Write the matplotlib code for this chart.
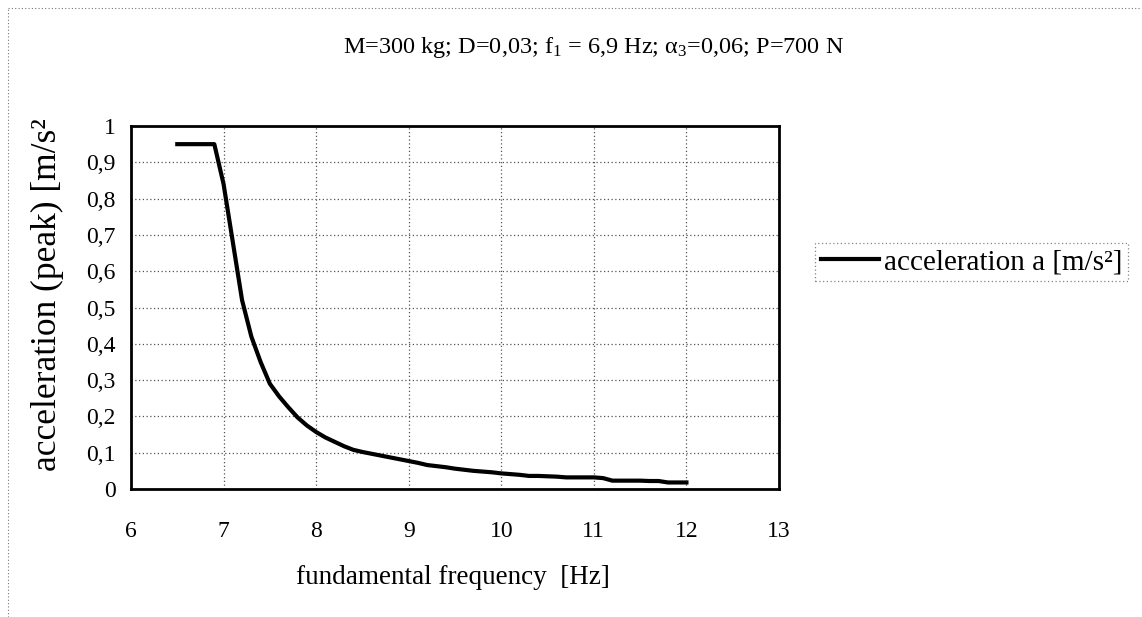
import matplotlib
matplotlib.use("Agg")
import matplotlib.pyplot as plt
from matplotlib.ticker import FuncFormatter, MultipleLocator
from matplotlib.lines import Line2D
from matplotlib.patches import Rectangle

plt.rcParams['font.family'] = ['Liberation Serif', 'DejaVu Serif']
plt.rcParams['mathtext.fontset'] = 'custom'
plt.rcParams['mathtext.rm'] = 'Liberation Serif'
plt.rcParams['mathtext.it'] = 'Liberation Serif:italic'

# fundamental frequency [Hz]
freq = [6.5, 6.6, 6.7, 6.8, 6.9,
        7.0, 7.1, 7.2, 7.3, 7.4, 7.5, 7.6, 7.7, 7.8, 7.9, 8.0,
        8.1, 8.2, 8.3, 8.4, 8.5, 8.6, 8.7, 8.8, 8.9, 9.0,
        9.1, 9.2, 9.3, 9.4, 9.5, 9.6, 9.7, 9.8, 9.9, 10.0,
        10.1, 10.2, 10.3, 10.4, 10.5, 10.6, 10.7, 10.8, 10.9, 11.0,
        11.1, 11.2, 11.3, 11.4, 11.5, 11.6, 11.7, 11.8, 11.9, 12.0]
# peak acceleration [m/s²]
accel = [0.95, 0.95, 0.95, 0.95, 0.95,
         0.84, 0.68, 0.52, 0.42, 0.35, 0.29, 0.255, 0.225, 0.197, 0.175, 0.157,
         0.142, 0.130, 0.118, 0.108, 0.102, 0.097, 0.092, 0.087, 0.082, 0.077,
         0.072, 0.066, 0.063, 0.060, 0.056, 0.053, 0.050, 0.048, 0.046, 0.043,
         0.041, 0.039, 0.036, 0.036, 0.035, 0.034, 0.032, 0.032, 0.032, 0.032,
         0.030, 0.023, 0.023, 0.023, 0.023, 0.022, 0.022, 0.018, 0.018, 0.018]

x_ticks = [6, 7, 8, 9, 10, 11, 12, 13]
title_text = r"M=300 kg; D=0,03; $\mathregular{f_1}$ = 6,9 Hz; $\mathregular{\alpha_3}$=0,06; P=700 N"
series_label = "acceleration a [m/s²]"

W, H = 1142, 617
fig = plt.figure(figsize=(W / 100, H / 100), dpi=100)
ax = fig.add_axes([131 / W, 1 - 489 / H, (779 - 131) / W, (489 - 126) / H])

ax.plot(freq, accel, color='black', linewidth=3.0, solid_joinstyle='round')

ax.set_xlim(6, 13)
ax.set_ylim(0, 1)
ax.set_xticks(x_ticks)
ax.yaxis.set_major_locator(MultipleLocator(0.1))


def comma_fmt(v, pos):
    if abs(v) < 1e-9:
        return "0"
    if abs(v - 1) < 1e-9:
        return "1"
    return f"{v:.1f}".replace('.', ',')


ax.yaxis.set_major_formatter(FuncFormatter(comma_fmt))
ax.xaxis.set_major_formatter(FuncFormatter(lambda v, p: f"{int(round(v))}"))

ax.grid(True, color='#555555', linestyle=(0, (1, 2)), linewidth=0.9)
ax.set_axisbelow(True)
for sp in ax.spines.values():
    sp.set_linewidth(2.0)
    sp.set_color('black')
ax.tick_params(axis='both', length=0, labelsize=17)
ax.tick_params(axis='x', pad=23)
ax.tick_params(axis='y', pad=11)

# y-axis title, cut off at the top edge of the chart area
ylab = fig.text(47 / W, 1 - 471 / H, "acceleration (peak) [m/s²]",
                rotation=90, ha='center', va='bottom', fontsize=25.5)
clip_rect = Rectangle((0, 0), 1, 1 - 118 / H, transform=fig.transFigure,
                      facecolor='none', edgecolor='none')
ylab.set_clip_path(clip_rect)
ylab.set_clip_on(True)

fig.text(453 / W, 1 - 578 / H, "fundamental frequency  [Hz]",
         ha='center', va='center', fontsize=19.5)
fig.text(594 / W, 1 - 47 / H, title_text, ha='center', va='center', fontsize=17.5)

handle = Line2D([], [], color='black', linewidth=3.0)
leg = fig.legend([handle], [series_label], loc='center left',
                 bbox_to_anchor=(815 / W, 1 - 262 / H), fontsize=21,
                 frameon=True, fancybox=False, handlelength=2.0,
                 handletextpad=0.15, borderpad=0.2, borderaxespad=0)
frame = leg.get_frame()
frame.set_edgecolor('#666666')
frame.set_linestyle((0, (1, 2)))
frame.set_linewidth(0.9)

# dotted outline of the chart area
fig.add_artist(Line2D([8 / W, 8 / W], [0, 1 - 8 / H], transform=fig.transFigure,
                      color='#777777', linestyle=(0, (1, 2)), linewidth=0.8))
fig.add_artist(Line2D([8 / W, 1140 / W], [1 - 8 / H, 1 - 8 / H], transform=fig.transFigure,
                      color='#777777', linestyle=(0, (1, 2)), linewidth=0.8))

fig.savefig("out.png", dpi=100, facecolor='white')
